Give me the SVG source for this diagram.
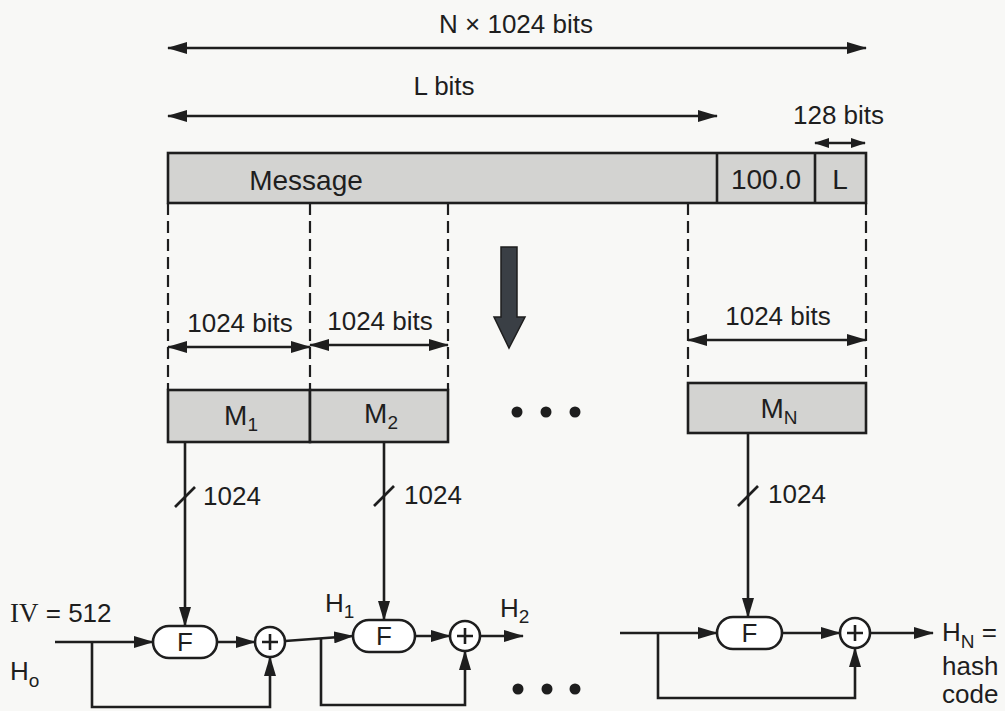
<svg xmlns="http://www.w3.org/2000/svg" width="1005" height="711" viewBox="0 0 1005 711">
<defs>
<style>
.t{font-family:"Liberation Sans",Arial,sans-serif;font-size:26px;fill:#1e1e1e}
.m{font-size:28px}
.ts{font-family:"Liberation Serif","Times New Roman",serif;font-size:27px;fill:#1e1e1e}
.sub{font-size:19px}
.ln{stroke:#1e1e1e;stroke-width:2.6;fill:none}
.dash{stroke:#1e1e1e;stroke-width:2.2;stroke-dasharray:12 6;fill:none}
.box{fill:#d3d3d1;stroke:#1e1e1e;stroke-width:2.6}
.pill{fill:#ffffff;stroke:#1e1e1e;stroke-width:2.6}
.dot{fill:#1e1e1e}
</style>
<marker id="ah" viewBox="0 0 20 12" refX="19" refY="6" markerWidth="20" markerHeight="12" markerUnits="userSpaceOnUse" orient="auto-start-reverse"><path d="M0,0 L20,6 L0,12 z" fill="#1e1e1e"/></marker>
<marker id="ahs" viewBox="0 0 15 10" refX="14" refY="5" markerWidth="15" markerHeight="10" markerUnits="userSpaceOnUse" orient="auto-start-reverse"><path d="M0,0 L15,5 L0,10 z" fill="#1e1e1e"/></marker>
</defs>
<rect width="1005" height="711" fill="#f8f8f6"/>

<g id="dimensions">
<text class="t" x="516" y="33" text-anchor="middle">N × 1024 bits</text>
<line class="ln" x1="168" y1="48" x2="866" y2="48" marker-start="url(#ah)" marker-end="url(#ah)"/>
<text class="t" x="444" y="95" text-anchor="middle">L bits</text>
<line class="ln" x1="168" y1="116" x2="717" y2="116" marker-start="url(#ah)" marker-end="url(#ah)"/>
<text class="t" x="793" y="124">128 bits</text>
<line class="ln" x1="815" y1="143" x2="865" y2="143" marker-start="url(#ahs)" marker-end="url(#ahs)"/>
</g>

<g id="message">
<rect class="box" x="168" y="153" width="698" height="50"/>
<line class="ln" x1="717" y1="153" x2="717" y2="203"/>
<line class="ln" x1="815" y1="153" x2="815" y2="203"/>
<text class="t m" x="306" y="190" text-anchor="middle">Message</text>
<text class="t m" x="766" y="189" text-anchor="middle">100.0</text>
<text class="t m" x="840" y="189" text-anchor="middle">L</text>
</g>

<g id="split">
<line class="dash" x1="168" y1="203" x2="168" y2="390"/>
<line class="dash" x1="310" y1="203" x2="310" y2="390"/>
<line class="dash" x1="448" y1="203" x2="448" y2="390"/>
<line class="dash" x1="688" y1="203" x2="688" y2="383"/>
<line class="dash" x1="866" y1="203" x2="866" y2="383"/>
<text class="t" x="240" y="332" text-anchor="middle">1024 bits</text>
<line class="ln" x1="168" y1="347" x2="310" y2="347" marker-start="url(#ah)" marker-end="url(#ah)"/>
<text class="t" x="380" y="330" text-anchor="middle">1024 bits</text>
<line class="ln" x1="310" y1="345" x2="448" y2="345" marker-start="url(#ah)" marker-end="url(#ah)"/>
<text class="t" x="778" y="325" text-anchor="middle">1024 bits</text>
<line class="ln" x1="688" y1="340" x2="866" y2="340" marker-start="url(#ah)" marker-end="url(#ah)"/>
<polygon points="501,247 517,247 517,317 525,317 509,348 494,317 501,317" fill="#3a3f45" stroke="#1e1e1e" stroke-width="1.5"/>
<circle class="dot" cx="517" cy="412" r="5.5"/>
<circle class="dot" cx="546" cy="412" r="5.5"/>
<circle class="dot" cx="575" cy="412" r="5.5"/>
</g>

<g id="M1">
<rect class="box" x="168" y="390" width="142" height="52"/>
<text class="t m" x="241" y="425" text-anchor="middle">M<tspan class="sub" dy="6">1</tspan></text>
</g>
<g id="M2">
<rect class="box" x="310" y="390" width="138" height="52"/>
<text class="t m" x="381" y="423" text-anchor="middle">M<tspan class="sub" dy="6">2</tspan></text>
</g>
<g id="MN">
<rect class="box" x="688" y="383" width="178" height="50"/>
<text class="t m" x="779" y="418" text-anchor="middle">M<tspan class="sub" dy="6">N</tspan></text>
</g>

<g id="connectors">
<line class="ln" x1="185" y1="442" x2="185" y2="626" marker-end="url(#ah)"/>
<line class="ln" x1="175" y1="507" x2="195" y2="487"/>
<line class="ln" x1="384" y1="442" x2="384" y2="620" marker-end="url(#ah)"/>
<line class="ln" x1="374" y1="506" x2="394" y2="486"/>
<line class="ln" x1="748" y1="433" x2="748" y2="617" marker-end="url(#ah)"/>
<line class="ln" x1="738" y1="506" x2="758" y2="486"/>

<line class="ln" x1="55" y1="642" x2="153" y2="642" marker-end="url(#ah)"/>
<path class="ln" d="M92,642 V707 H270 V657" marker-end="url(#ah)"/>
<line class="ln" x1="217" y1="642" x2="255" y2="642" marker-end="url(#ah)"/>
<path class="ln" d="M285,641 L353,636" marker-end="url(#ah)"/>
<path class="ln" d="M321,638.5 V705 H465 V651" marker-end="url(#ah)"/>
<line class="ln" x1="415" y1="636" x2="450" y2="636" marker-end="url(#ah)"/>
<line class="ln" x1="480" y1="636" x2="523" y2="636" marker-end="url(#ah)"/>

<line class="ln" x1="620" y1="633" x2="717" y2="633" marker-end="url(#ah)"/>
<path class="ln" d="M658,633 V698 H855 V648" marker-end="url(#ah)"/>
<line class="ln" x1="782" y1="633" x2="840" y2="633" marker-end="url(#ah)"/>
<line class="ln" x1="870" y1="633" x2="933" y2="633" marker-end="url(#ah)"/>
</g>

<g id="labels">
<text class="t" x="203" y="505">1024</text>
<text class="t" x="404" y="504">1024</text>
<text class="t" x="768" y="503">1024</text>
<text class="ts" x="10" y="622">IV<tspan class="t" style="font-size:26px"> = 512</tspan></text>
<text class="t" x="10" y="680">H<tspan class="sub" dy="7">o</tspan></text>
<text class="t" x="325" y="612">H<tspan class="sub" dy="6">1</tspan></text>
<text class="t" x="500" y="617">H<tspan class="sub" dy="6">2</tspan></text>
<text class="t" x="942" y="641">H<tspan class="sub" dy="7">N</tspan><tspan dy="-7"> =</tspan></text>
<text class="t" x="942" y="675">hash</text>
<text class="t" x="942" y="703">code</text>
<circle class="dot" cx="518" cy="689" r="5.5"/>
<circle class="dot" cx="547" cy="689" r="5.5"/>
<circle class="dot" cx="575" cy="689" r="5.5"/>
</g>

<g id="F1">
<rect class="pill" x="153" y="626" width="64" height="32" rx="16"/>
<text class="t" x="185" y="651" text-anchor="middle">F</text>
</g>
<g id="X1">
<circle class="pill" cx="270" cy="642" r="15"/>
<path class="ln" d="M262,642 H278 M270,634 V650" stroke-width="2.2"/>
</g>
<g id="F2">
<rect class="pill" x="353" y="620" width="62" height="32" rx="16"/>
<text class="t" x="384" y="645" text-anchor="middle">F</text>
</g>
<g id="X2">
<circle class="pill" cx="465" cy="636" r="15"/>
<path class="ln" d="M457,636 H473 M465,628 V644" stroke-width="2.2"/>
</g>
<g id="F3">
<rect class="pill" x="717" y="617" width="65" height="32" rx="16"/>
<text class="t" x="749.5" y="642" text-anchor="middle">F</text>
</g>
<g id="X3">
<circle class="pill" cx="855" cy="633" r="15"/>
<path class="ln" d="M847,633 H863 M855,625 V641" stroke-width="2.2"/>
</g>
</svg>
